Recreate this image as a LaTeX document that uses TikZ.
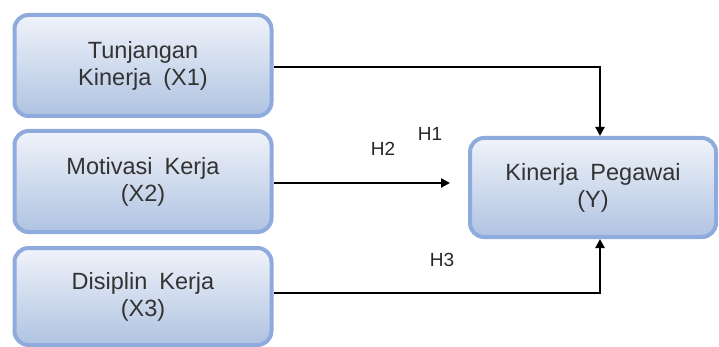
\documentclass[tikz,border=0pt]{standalone}
\usepackage{fontspec}
\setmainfont{Liberation Sans}
\usetikzlibrary{arrows.meta}
\definecolor{boxedge}{HTML}{8FAADC}
\definecolor{boxtop}{HTML}{F0F3FA}
\definecolor{boxbot}{HTML}{AFC3E1}
\newcommand{\boxfont}{\fontsize{23.5}{27}\selectfont\spaceskip=12pt plus 2pt minus 1pt\relax}
\tikzset{
  varbox/.style={draw=boxedge, line width=4pt, rounded corners=14pt,
    top color=boxtop, bottom color=boxbot, text=black!80,
    align=center, font=\boxfont, inner sep=0pt},
  link/.style={line width=2.6pt, -{Triangle[length=9pt,width=9pt]}},
  hyp/.style={font=\fontsize{19}{21}\selectfont, text=black!85}
}
\begin{document}
\begin{tikzpicture}[x=1pt,y=-1pt]
\useasboundingbox (0,0) rectangle (719,347);
\node[varbox, minimum width=257pt, minimum height=101pt] (x1) at (143,65.5) {Tunjangan\\Kinerja (X1)};
\node[varbox, minimum width=257pt, minimum height=101pt] (x2) at (143,181.5) {Motivasi Kerja\\(X2)};
\node[varbox, minimum width=257pt, minimum height=97pt] (x3) at (143,296.5) {Disiplin Kerja\\(X3)};
\node[varbox, minimum width=246pt, minimum height=99pt] (y) at (593,187.5) {Kinerja Pegawai\\(Y)};
\coordinate (c1) at (600,67);
\coordinate (c3) at (600,293);
\coordinate (t2) at (450,183);
\draw[link] (x1.east |- c1) -- (c1) -- (c1 |- y.north);
\draw[link] (x2.east |- t2) -- (t2);
\draw[link] (x3.east |- c3) -- (c3) -- (c3 |- y.south);
\node[hyp] (h1) at (430,134) {H1};
\node[hyp] (h2) at (383,148.5) {H2};
\node[hyp] (h3) at (442,260) {H3};
\end{tikzpicture}
\end{document}
